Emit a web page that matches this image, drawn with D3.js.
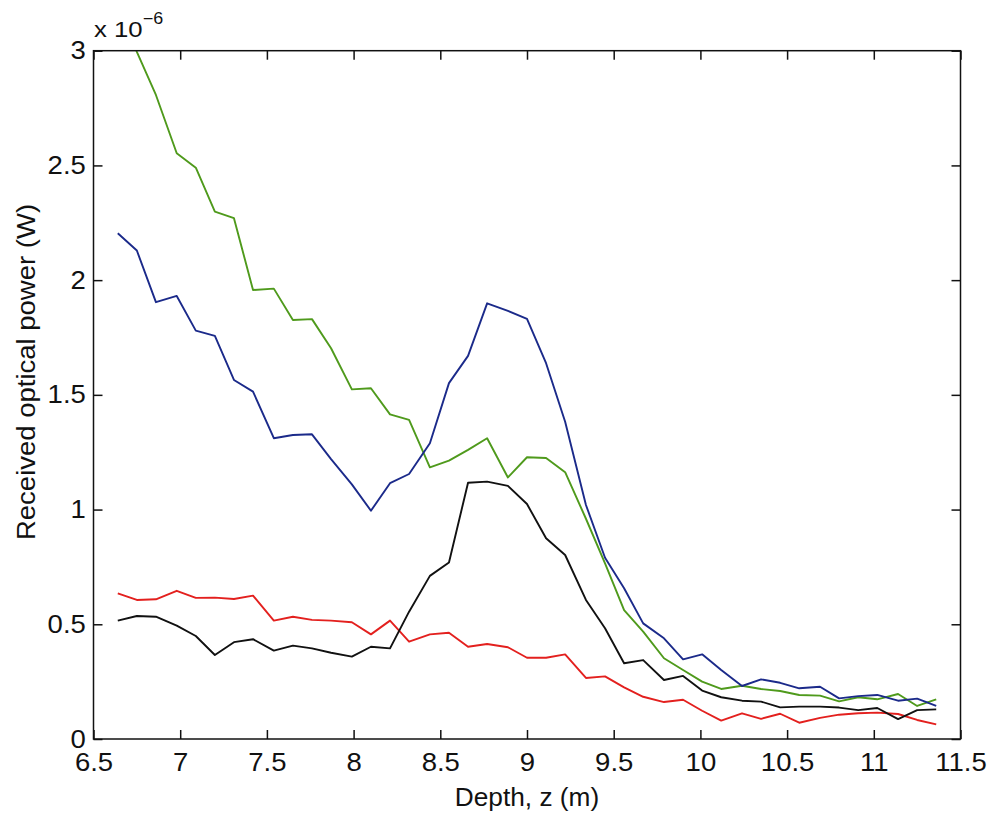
<!DOCTYPE html>
<html>
<head>
<meta charset="utf-8">
<script src="https://cdn.jsdelivr.net/npm/d3@7"></script>
<style>
  body { margin: 0; background: #fff; }
  svg { display: block; }
  .tick text { font-family: "Liberation Sans", Arial, sans-serif; font-size: 25px; fill: #111; }
  .lbl { font-family: "Liberation Sans", Arial, sans-serif; fill: #111; }
</style>
</head>
<body>
<div id="chart"></div>
<script>
// sample depths (m)
const depth = [6.64, 6.75, 6.86, 6.98, 7.09, 7.20, 7.31, 7.42, 7.54, 7.65, 7.76, 7.87, 7.99, 8.10,
  8.21, 8.32, 8.44, 8.55, 8.66, 8.77, 8.89, 9.00, 9.11, 9.22, 9.34, 9.45, 9.56, 9.67, 9.79, 9.90,
  10.01, 10.12, 10.24, 10.35, 10.46, 10.57, 10.69, 10.80, 10.91, 11.02, 11.14, 11.25, 11.36];

// received power, units of 1e-6 W
const bluePower = [2.204, 2.129, 1.904, 1.931, 1.780, 1.757, 1.565, 1.514, 1.311, 1.325, 1.328, 1.22, 1.11, 0.995,
  1.115, 1.155, 1.289, 1.551, 1.670, 1.899, 1.866, 1.831, 1.638, 1.383, 1.020, 0.79, 0.657, 0.504, 0.439, 0.347,
  0.369, 0.301, 0.231, 0.260, 0.245, 0.221, 0.228, 0.177, 0.187, 0.192, 0.167, 0.176, 0.144];
const greenPower = [3.25, 2.995, 2.807, 2.553, 2.490, 2.299, 2.270, 1.957, 1.963, 1.826, 1.830, 1.703, 1.524, 1.529,
  1.415, 1.391, 1.184, 1.213, 1.260, 1.311, 1.140, 1.228, 1.225, 1.163, 0.96, 0.765, 0.562, 0.468, 0.352, 0.301,
  0.250, 0.218, 0.232, 0.218, 0.209, 0.192, 0.189, 0.164, 0.182, 0.173, 0.196, 0.144, 0.173];
const redPower = [0.635, 0.606, 0.609, 0.646, 0.615, 0.616, 0.610, 0.625, 0.516, 0.533, 0.519, 0.516, 0.509, 0.456,
  0.516, 0.424, 0.456, 0.463, 0.402, 0.414, 0.400, 0.354, 0.354, 0.369, 0.266, 0.273, 0.225, 0.184, 0.161, 0.171,
  0.123, 0.080, 0.112, 0.088, 0.110, 0.071, 0.092, 0.106, 0.112, 0.115, 0.109, 0.083, 0.064];
const blackPower = [0.516, 0.536, 0.533, 0.494, 0.449, 0.366, 0.422, 0.435, 0.385, 0.407, 0.395, 0.376, 0.359, 0.402,
  0.395, 0.555, 0.711, 0.769, 1.117, 1.122, 1.103, 1.024, 0.875, 0.802, 0.606, 0.483, 0.330, 0.344, 0.257, 0.275,
  0.211, 0.182, 0.167, 0.163, 0.138, 0.141, 0.141, 0.137, 0.126, 0.135, 0.087, 0.126, 0.129];

const xTicks = [6.5, 7, 7.5, 8, 8.5, 9, 9.5, 10, 10.5, 11, 11.5];
const yTicks = [0, 0.5, 1, 1.5, 2, 2.5, 3];

const series = [
  { name: 'green', values: greenPower, color: '#4f9a1c' },
  { name: 'blue', values: bluePower, color: '#1b2a8a' },
  { name: 'red', values: redPower, color: '#e3201e' },
  { name: 'black', values: blackPower, color: '#111111' }
];

const width = 995, height = 814;
const plotLeft = 93.5, plotRight = 960.5, plotTop = 50.7, plotBottom = 739;
// the scanned figure's lettering is a little wider than Arial
const stretch = 'scale(1.1,1)';

const svg = d3.select('#chart').append('svg')
  .attr('width', width)
  .attr('height', height);

const x = d3.scaleLinear().domain([6.5, 11.5]).range([plotLeft, plotRight]);
const y = d3.scaleLinear().domain([0, 3]).range([plotBottom, plotTop]);

// clip lines to the axes box
svg.append('clipPath').attr('id', 'plot-clip')
  .append('rect')
  .attr('x', plotLeft).attr('y', plotTop)
  .attr('width', plotRight - plotLeft).attr('height', plotBottom - plotTop);

const line = d3.line()
  .x((d, i) => x(depth[i]))
  .y(d => y(d));

svg.append('g')
  .attr('clip-path', 'url(#plot-clip)')
  .selectAll('path')
  .data(series)
  .enter()
  .append('path')
  .attr('d', d => line(d.values))
  .attr('fill', 'none')
  .attr('stroke', d => d.color)
  .attr('stroke-width', 1.9)
  .attr('stroke-linejoin', 'round');

// axes, ticks pointing inward
const tickLen = 9;
const fmt = d3.format('');

svg.append('g')
  .attr('transform', `translate(0,${plotBottom})`)
  .call(d3.axisBottom(x).tickValues(xTicks).tickFormat(fmt).tickSizeInner(-tickLen).tickSizeOuter(0).tickPadding(14));

svg.append('g')
  .attr('transform', `translate(0,${plotTop})`)
  .call(d3.axisTop(x).tickValues(xTicks).tickFormat('').tickSizeInner(-tickLen).tickSizeOuter(0));

svg.append('g')
  .attr('transform', `translate(${plotLeft},0)`)
  .call(d3.axisLeft(y).tickValues(yTicks).tickFormat(fmt).tickSizeInner(-tickLen).tickSizeOuter(0).tickPadding(7));

svg.append('g')
  .attr('transform', `translate(${plotRight},0)`)
  .call(d3.axisRight(y).tickValues(yTicks).tickFormat('').tickSizeInner(-tickLen).tickSizeOuter(0));

svg.selectAll('.domain').remove();
svg.selectAll('.tick line').attr('stroke', '#111').attr('stroke-width', 1.5);
svg.selectAll('.tick text').attr('transform', stretch);

svg.append('rect')
  .attr('x', plotLeft).attr('y', plotTop)
  .attr('width', plotRight - plotLeft).attr('height', plotBottom - plotTop)
  .attr('fill', 'none')
  .attr('stroke', '#111')
  .attr('stroke-width', 1.5);

// labels
svg.append('text')
  .attr('class', 'lbl')
  .attr('transform', `translate(${(plotLeft + plotRight) / 2},806) scale(1.05,1)`)
  .attr('text-anchor', 'middle')
  .attr('font-size', 25)
  .text('Depth, z (m)');

svg.append('text')
  .attr('class', 'lbl')
  .attr('transform', `translate(35,372) rotate(-90) ${stretch}`)
  .attr('text-anchor', 'middle')
  .attr('font-size', 25)
  .text('Received optical power (W)');

const mult = svg.append('text')
  .attr('class', 'lbl')
  .attr('transform', 'translate(94,37) scale(1.12,1)')
  .attr('font-size', 23);
mult.append('tspan').text('x 10');
mult.append('tspan').attr('dy', -13).attr('font-size', 16).text('\u22126');
</script>
</body>
</html>
